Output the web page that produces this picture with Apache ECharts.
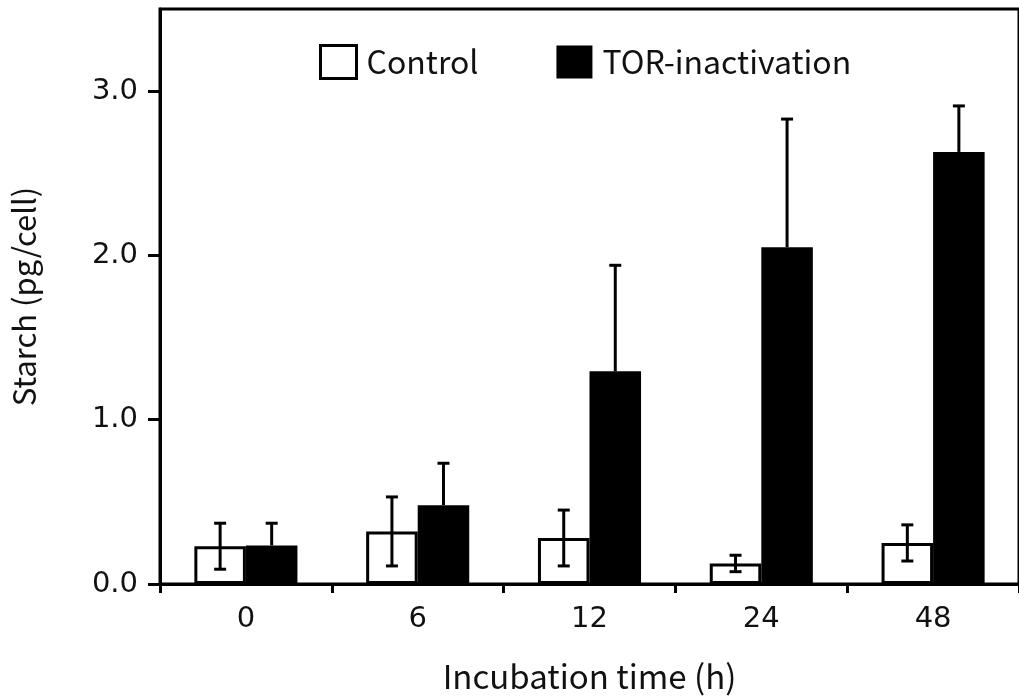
<!DOCTYPE html>
<html>
<head>
<meta charset="utf-8">
<script src="https://cdn.jsdelivr.net/npm/echarts@6/dist/echarts.min.js"></script>
<style>
  html, body { margin: 0; padding: 0; background: #fff; }
  #main { width: 1019px; height: 698px; }
</style>
</head>
<body>
<div id="main"></div>
<script>
// 数据
var hours = ['0', '6', '12', '24', '48'];
var controlMean = [0.23, 0.32, 0.28, 0.125, 0.25];
var controlErr = [0.14, 0.21, 0.17, 0.05, 0.11];
var torMean = [0.235, 0.48, 1.295, 2.05, 2.63];
var torErr = [0.135, 0.255, 0.645, 0.78, 0.28];
var yTicks = [0, 1, 2, 3];

var FONT = '"Noto Sans CJK JP", "Noto Sans", sans-serif';
var NUM_FONT = '"DejaVu Sans", sans-serif';

// 误差线：offset 是柱中心相对类目中心的比例, both 表示是否画下半部分
function errorSeries (name, mean, err, offset, both) {
  return {
    name: name + ' err',
    type: 'custom',
    z: 5,
    silent: true,
    data: mean.map(function (m, i) { return [i, m, err[i]]; }),
    renderItem: function (params, api) {
      var i = api.value(0);
      var m = api.value(1);
      var e = api.value(2);
      var band = api.size([1, 0])[0];
      var cx = api.coord([i, m])[0] + band * offset;
      var yTop = api.coord([i, m + e])[1];
      var yMid = api.coord([i, m])[1];
      var yBot = both ? api.coord([i, m - e])[1] : yMid;
      var cap = 6;
      var style = { stroke: '#000', lineWidth: 3 };
      var kids = [
        { type: 'line', shape: { x1: cx, y1: yTop, x2: cx, y2: yBot }, style: style },
        { type: 'line', shape: { x1: cx - cap, y1: yTop, x2: cx + cap, y2: yTop }, style: style }
      ];
      if (both) {
        kids.push({ type: 'line', shape: { x1: cx - cap, y1: yBot, x2: cx + cap, y2: yBot }, style: style });
      }
      return { type: 'group', children: kids };
    }
  };
}

var myChart = echarts.init(document.getElementById('main'));

var option = {
  animation: false,
  backgroundColor: '#fff',
  textStyle: { fontFamily: FONT },
  grid: {
    left: 160,
    right: -5,
    top: 9,
    bottom: 110,
    show: true,
    borderColor: '#000',
    borderWidth: 3,
    backgroundColor: 'transparent'
  },
  legend: {
    left: 314,
    top: 39,
    itemWidth: 36,
    itemHeight: 33,
    itemGap: 78,
    icon: 'rect',
    textStyle: { fontSize: 32, color: '#111', fontFamily: FONT, padding: [0, 0, 0, 5] },
    data: [
      { name: 'Control', itemStyle: { color: '#fff', borderColor: '#000', borderWidth: 3 } },
      { name: 'TOR-inactivation', itemStyle: { color: '#000', borderWidth: 0 } }
    ]
  },
  xAxis: {
    type: 'category',
    data: hours,
    name: 'Incubation time (h)',
    nameLocation: 'middle',
    nameGap: 76,
    nameTextStyle: { fontSize: 33, color: '#111', fontFamily: FONT },
    axisLine: { lineStyle: { color: '#000', width: 3 } },
    axisTick: { show: true, length: 9, lineStyle: { color: '#000', width: 3 } },
    axisLabel: { fontSize: 29, color: '#111', margin: 21, fontFamily: NUM_FONT },
    splitLine: { show: false }
  },
  yAxis: {
    type: 'value',
    min: 0,
    max: 3.5,
    interval: 1,
    name: 'Starch (pg/cell)',
    nameLocation: 'middle',
    nameGap: 120,
    nameTextStyle: { fontSize: 31, color: '#111', fontFamily: FONT },
    axisLine: { show: true, lineStyle: { color: '#000', width: 3 } },
    axisTick: { show: true, length: 12, customValues: yTicks, lineStyle: { color: '#000', width: 3 } },
    axisLabel: {
      fontSize: 29, color: '#111', margin: 22, fontFamily: NUM_FONT,
      customValues: yTicks,
      formatter: function (v) { return v.toFixed(1); }
    },
    splitLine: { show: false }
  },
  series: [
    {
      name: 'Control',
      type: 'bar',
      data: controlMean,
      barWidth: '30%',
      barGap: '0%',
      itemStyle: { color: '#fff', borderColor: '#000', borderWidth: 3 }
    },
    {
      name: 'TOR-inactivation',
      type: 'bar',
      data: torMean,
      barWidth: '30%',
      barGap: '0%',
      itemStyle: { color: '#000' }
    },
    errorSeries('Control', controlMean, controlErr, -0.15, true),
    errorSeries('TOR-inactivation', torMean, torErr, 0.15, false)
  ]
};

myChart.setOption(option);
</script>
</body>
</html>
